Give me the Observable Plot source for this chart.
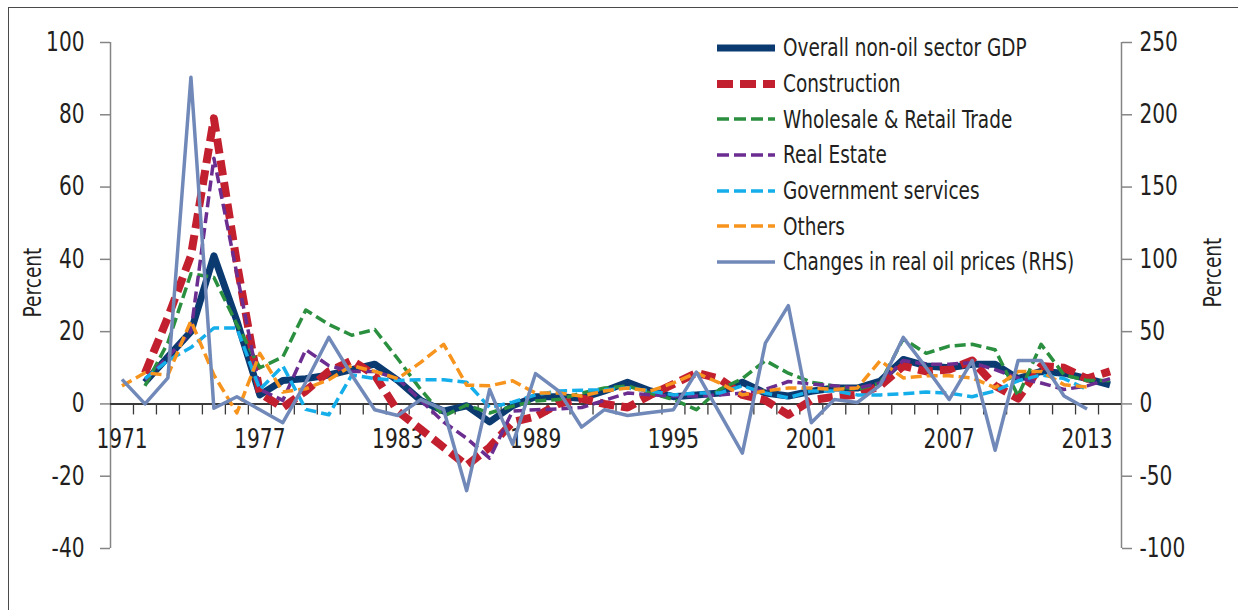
<!DOCTYPE html>
<html><head><meta charset="utf-8">
<script src="https://cdn.jsdelivr.net/npm/d3@7"></script>
<script src="https://cdn.jsdelivr.net/npm/@observablehq/plot@0.6"></script>
<style>
html,body{margin:0;padding:0;background:#fff;}
#wrap{position:relative;width:1238px;height:610px;overflow:hidden;font-family:"DejaVu Sans Condensed","Liberation Sans Narrow",sans-serif;color:#231f20;}
#border{position:absolute;left:8px;top:7px;width:1400px;height:800px;border:1.5px solid #4a4a4a;}
#chart{position:absolute;left:0;top:0;}
#legend{position:absolute;left:717px;top:30px;}
.row{display:flex;align-items:center;height:35.7px;font-size:25px;white-space:nowrap;}
.row svg{width:58px;height:12px;margin-right:8px;flex:none;}
.row span{display:inline-block;transform:scaleX(0.82);transform-origin:left center;}
</style></head><body>
<div id="wrap"><div id="border"></div><div id="chart"></div><div id="legend"></div></div>
<script>
const years = d3.range(1971, 2015);
const xLabelYears = [1971, 1977, 1983, 1989, 1995, 2001, 2007, 2013];
const leftTicks = [-40, -20, 0, 20, 40, 60, 80, 100];
const rightTickLabels = ["-100", "-50", "0", "50", "100", "150", "200", "250"];

const overall = [null,6,13,20,41,23,2.5,6.5,7,8,9.5,11,6.5,1,-2,-0.5,-5,-0.5,2,2,1.6,3.6,6,3.6,2,2.5,3,6,3,2.2,3.5,4.4,4.4,6.3,12.3,10.5,10,11,11,7,9,8.5,7,5.3];
const construction = [null,8.5,24,41,79,39,3,-1,3.6,9,12,8,-2,-7,-12,-17,-12,-5,-3.5,0,1.5,0,-1,2.5,5.5,8.6,7,2.5,1,-3,1,2,2.5,5,10.5,9,9.5,12,5,1.5,10.5,10,7,9];
const wholesale = [null,5,17,36,35,22,10,13,26,22,19,20.6,12.5,4,-3.4,-0.3,-2.5,-0.6,0.8,1.2,3,4.4,5,3,1.2,-1.6,4,7,12,8.5,6,5,4,5.8,18,14,16,16.5,15,2.2,16.5,8,6.5,6.5];
const realEstate = [null,6.7,13,20,68,36,4,1,15,10.6,9,9,7,1,-5,-9.5,-15,-2,-1.6,-1.4,-1,1,3,2.5,2.2,2.2,2.5,3,4,6.2,5.5,5,4.4,5.8,12,11,11,11.4,9.5,7.2,5.8,4,5,7];
const government = [null,7,12,15.6,21,21,4,10.5,-1.5,-3,8,7,6.5,6.7,6.7,6,-1,0.5,2.5,3.6,3.8,3.9,4.4,3.6,2.5,3,3,5,3,1.7,3.6,3.6,2.5,2.5,2.8,3.3,3,2,3.6,6.4,8,7,4,null];
const others = [5,8.6,8,23,8,-2.5,14,3.3,4.2,6.7,10.6,9,7,11.5,16.5,5.2,5,6.4,3,3,2.2,3.6,4.4,3.6,5.8,8.6,5.8,2.5,3.6,4.4,4.4,4,4.4,12,7.2,7.8,7.8,7.2,4.5,9,9,5.3,4.7,null];
const oilRHS = [17,0,18,226,-3,5,-4,-13,15,46,20,-4,-8,3,-4,-60,10,-28,21,9,-16,-4,-8,-6,-4,22,-6,-34,42,68,-13,3,1,13,46,25,3,30,-32,30,30,5.5,-3.5,null];

const seriesNames = ["Overall non-oil sector GDP","Construction","Wholesale & Retail Trade","Real Estate","Government services","Others","Changes in real oil prices (RHS)"];
const seriesValues = [overall, construction, wholesale, realEstate, government, others, oilRHS];
const rhsRatio = 2.5; // right axis (-100..250) vs left axis (-40..100)

const styles = [
  {color:"#0b3a70", width:7, dash:null},
  {color:"#c3202f", width:8, dash:"15,7"},
  {color:"#2a8f3e", width:3.5, dash:"11,5"},
  {color:"#6b2d90", width:3.5, dash:"11,5"},
  {color:"#14aeea", width:3.5, dash:"11,5"},
  {color:"#f7941d", width:3.5, dash:"11,5"},
  {color:"#7189b9", width:3.5, dash:null}
];

const FONT = '"DejaVu Sans Condensed","Liberation Sans Narrow",sans-serif';

function rows(vals, scale) {
  return years.map((yr, i) => ({year: yr, value: vals[i] == null ? null : vals[i] / scale}))
              .filter(d => d.value != null);
}

const tickBounds = d3.range(1971.5, 2014, 1);
const marks = [
  Plot.ruleX([1970.5, 2014.5], {y1: -40, y2: 100, stroke: "#858585", strokeWidth: 1.5}),
  Plot.axisY(leftTicks, {anchor: "left", tickSize: 10, tickPadding: 16, stroke: "#858585", strokeWidth: 1.5, tickFormat: d => String(d), label: null, fontSize: 26}),
  Plot.axisY(leftTicks, {anchor: "right", tickSize: 10, tickPadding: 8, stroke: "#858585", strokeWidth: 1.5, tickFormat: d => rightTickLabels[leftTicks.indexOf(d)], label: null, fontSize: 26}),
  Plot.ruleY([0], {x1: 1970.5, x2: 2014.5, stroke: "#3a3a3a", strokeWidth: 2}),
  Plot.ruleX(tickBounds, {y1: 0, y2: -3.05, stroke: "#3a3a3a", strokeWidth: 1.3}),
  Plot.text(xLabelYears, {x: d => d, y: 0, dy: 36, text: d => String(d), fontSize: 26})
];
seriesValues.forEach((vals, k) => {
  const s = styles[k];
  marks.push(Plot.line(rows(vals, k === 6 ? rhsRatio : 1), {
    x: "year", y: "value", stroke: s.color, strokeWidth: s.width,
    strokeDasharray: s.dash, strokeLinejoin: "round", strokeLinecap: "butt"
  }));
});
marks.push(Plot.text(["Percent"], {frameAnchor: "left", textAnchor: "middle", rotate: -90, dx: -77, dy: -13, fontSize: 24}));
marks.push(Plot.text(["Percent"], {frameAnchor: "right", textAnchor: "middle", rotate: -90, dx: 92, dy: -23, fontSize: 24}));

const chart = Plot.plot({
  width: 1238, height: 610,
  marginLeft: 110, marginRight: 117, marginTop: 42, marginBottom: 62,
  style: {fontFamily: FONT, fontSize: "26px", color: "#231f20", background: "transparent", overflow: "visible"},
  x: {type: "linear", domain: [1970.5, 2014.5], axis: null},
  y: {domain: [-40, 100], axis: null},
  marks
});
document.getElementById("chart").appendChild(chart);
// condense the glyphs horizontally to mimic the narrow typeface of the original
chart.querySelectorAll("text").forEach(t => {
  const w = t.getComputedTextLength();
  if (w > 0) {
    t.setAttribute("textLength", (w * 0.86).toFixed(1));
    t.setAttribute("lengthAdjust", "spacingAndGlyphs");
  }
});

const legend = document.getElementById("legend");
seriesNames.forEach((name, k) => {
  const s = styles[k];
  const row = document.createElement("div");
  row.className = "row";
  row.innerHTML = `<svg viewBox="0 0 58 12"><line x1="0" y1="6" x2="58" y2="6" stroke="${s.color}" stroke-width="${Math.min(s.width, 8)}" ${s.dash ? `stroke-dasharray="${k === 1 ? '16,7' : '12,5'}"` : ""}/></svg><span>${name.replace("&", "&amp;")}</span>`;
  legend.appendChild(row);
});
</script>
</body></html>
